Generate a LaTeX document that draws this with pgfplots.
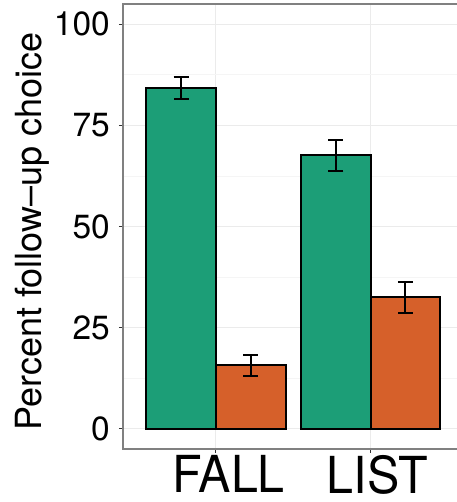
\documentclass[border=0pt]{standalone}
\usepackage{pgfplots}
\pgfplotsset{compat=1.18}
\usepackage{fontspec}
\setmainfont{TeX Gyre Heros}
\definecolor{cgreen}{HTML}{1C9E77}
\definecolor{corange}{HTML}{D6602A}
\definecolor{gridmaj}{HTML}{EBEBEB}
\definecolor{gridmin}{HTML}{F5F5F5}
\definecolor{bordercol}{HTML}{808080}
\begin{document}
\begin{tikzpicture}
\useasboundingbox (-123bp,-53bp) rectangle (334bp,449bp);
\begin{axis}[
  scale only axis, width=340.5bp, height=445bp,
  xmin=0.4, xmax=2.6, ymin=-5, ymax=105,
  xtick={1,2}, xticklabels={\hspace*{27bp}FALL,\hspace*{14bp}LIST},
  ytick={0,25,50,75,100},
  minor ytick={12.5,37.5,62.5,87.5},
  grid=both,
  major grid style={gridmaj, line width=1.1bp},
  minor grid style={gridmin, line width=0.6bp},
  tick align=outside, major tick length=4bp, minor tick length=0pt,
  tick pos=left,
  major tick style={black!80, line width=1bp},
  axis line style={bordercol, line width=1.5bp},
  /pgf/number format/assume math mode=true,
  yticklabel style={font=\fontsize{33.5bp}{40bp}\selectfont, inner sep=0pt, anchor=east, xshift=-9bp},
  xticklabel style={font=\fontsize{51bp}{60bp}\selectfont, xscale=0.95, inner sep=0pt, anchor=north, yshift=-2.5bp},
  ylabel={Percent follow--up choice},
  ylabel style={font=\fontsize{36bp}{43bp}\selectfont, at={(axis description cs:-0.2144,0.489)}, anchor=south, inner sep=0pt},
  error bars/error mark=|,
  error bars/error bar style={black, line width=2bp},
  error bars/error mark options={black, line width=2bp, mark size=7.5bp},
]
\addplot[ybar, bar width=0.45, bar shift=-0.225, fill=cgreen, draw=black, line width=2bp]
  coordinates {(1,84.3) (2,67.55)};
\addplot[ybar, bar width=0.45, bar shift=0.225, fill=corange, draw=black, line width=2bp]
  coordinates {(1,15.7) (2,32.45)};
\addplot[draw=none, mark=none, forget plot,
  error bars/.cd, y dir=both, y explicit]
  coordinates {(0.775,84.3) +- (0,2.7) (1.775,67.55) +- (0,3.75)
               (1.225,15.7) +- (0,2.65) (2.225,32.45) +- (0,3.75)};
\end{axis}
\end{tikzpicture}
\end{document}
